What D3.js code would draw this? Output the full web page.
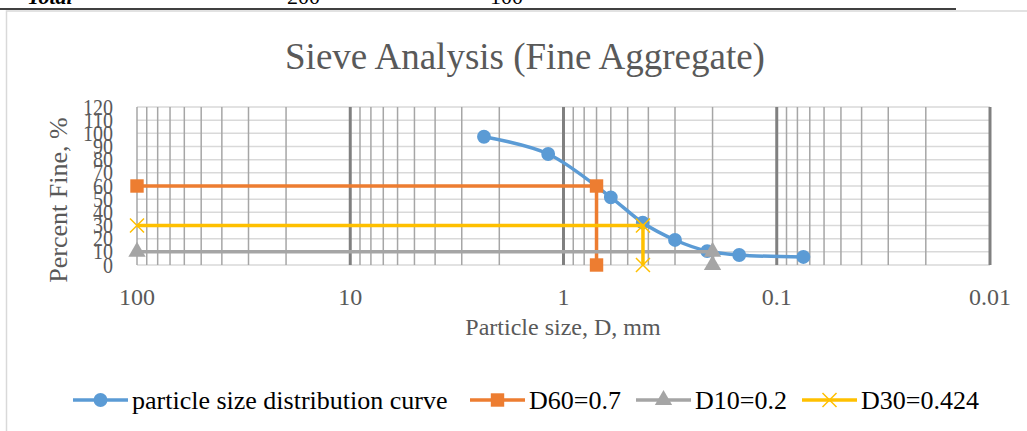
<html>
<meta charset="utf-8" />
<head>
<title>Sieve Analysis (Fine Aggregate)</title>
<script src="https://cdn.jsdelivr.net/npm/d3@7/dist/d3.min.js"></script>
<style>
	body { margin: 0; background: #fff; }
	svg text { font-family: "Liberation Serif", "Times New Roman", serif; }
</style>
<script>
// sieve sizes (mm) and percent passing
const sieveSize = [2.36, 1.18, 0.6, 0.425, 0.3, 0.212, 0.15, 0.075];
const percentFine = [97.4, 84.3, 51.4, 32.1, 19, 10.6, 7.6, 6.1];

// D-value guide lines: from 100 mm across, then down to 0
const d60Size = [100, 0.7, 0.7];
const d60Fine = [60, 60, 0];
const d10Size = [100, 0.2, 0.2];
const d10Fine = [10, 10, 0];
const d30Size = [100, 0.424, 0.424];
const d30Fine = [30, 30, 0];

const xTicks = [100, 10, 1, 0.1, 0.01];
const yTicks = [0, 10, 20, 30, 40, 50, 60, 70, 80, 90, 100, 110, 120];
const seriesNames = ['particle size distribution curve', 'D60=0.7', 'D10=0.2', 'D30=0.424'];

window.onload = function() {
	let svg = d3.select('svg');

	// text of the table above the chart (cut off at the top)
	svg.append('text').attr('x', 27).attr('y', 4).style('font-size', '22px')
	.style('font-weight', 'bold').style('font-style', 'italic').text('Total');
	svg.append('text').attr('x', 287).attr('y', 4).style('font-size', '22px').text('200');
	svg.append('text').attr('x', 490).attr('y', 4).style('font-size', '22px').text('100');
	svg.append('line').attr('x1', 0).attr('x2', 956).attr('y1', 9).attr('y2', 9)
	.attr('stroke', '#000').attr('stroke-width', 1.5);

	// chart frame
	svg.append('rect').attr('x', 6.5).attr('y', 11).attr('width', 1040).attr('height', 440)
	.attr('fill', 'none').attr('stroke', '#d9d9d9').attr('stroke-width', 1.5);

	let xScale = d3.scaleLog().domain([100, 0.01]).range([137, 990]);
	let yScale = d3.scaleLinear().domain([0, 120]).range([265, 107]);

	// horizontal grid
	svg.append('g').selectAll('line').data(yTicks).enter().append('line')
	.attr('x1', xScale(100)).attr('x2', xScale(0.01))
	.attr('y1', (d) => yScale(d)).attr('y2', (d) => yScale(d))
	.attr('stroke', '#d9d9d9').attr('stroke-width', 1.5);

	// minor vertical grid 2..9 in every decade
	let minor = [];
	[0.01, 0.1, 1, 10].forEach((p) => {
		for (let k = 2; k <= 9; k++) minor.push(+(k * p).toPrecision(3));
	});
	svg.append('g').selectAll('line').data(minor.concat([100])).enter().append('line')
	.attr('x1', (d) => xScale(d)).attr('x2', (d) => xScale(d))
	.attr('y1', yScale(0)).attr('y2', yScale(120))
	.attr('stroke', '#a6a6a6').attr('stroke-width', 1.5);

	// major decade lines
	svg.append('g').selectAll('line').data([10, 1, 0.1, 0.01]).enter().append('line')
	.attr('x1', (d) => xScale(d)).attr('x2', (d) => xScale(d))
	.attr('y1', yScale(0)).attr('y2', yScale(120))
	.attr('stroke', '#808080').attr('stroke-width', 3);

	// tick labels (y labels are narrow and overlap, as in the original)
	svg.append('g').selectAll('text').data(yTicks).enter().append('text')
	.attr('transform', (d) => 'translate(113,' + yScale(d) + ') scale(0.87,1)').attr('dy', '0.33em')
	.attr('text-anchor', 'end').style('font-size', '23px').attr('fill', '#595959')
	.text((d) => d);

	svg.append('g').selectAll('text').data(xTicks).enter().append('text')
	.attr('x', (d) => xScale(d)).attr('y', 305)
	.attr('text-anchor', 'middle').style('font-size', '24px').attr('fill', '#595959')
	.text((d) => d);

	// titles
	svg.append('text').attr('x', 525).attr('y', 69).attr('text-anchor', 'middle')
	.style('font-size', '37px').attr('fill', '#595959').text('Sieve Analysis (Fine Aggregate)');
	svg.append('text').attr('x', 563).attr('y', 335).attr('text-anchor', 'middle')
	.style('font-size', '24px').attr('fill', '#595959').text('Particle size, D, mm');
	svg.append('text').attr('transform', 'translate(67,200) rotate(-90)').attr('text-anchor', 'middle')
	.style('font-size', '26px').attr('fill', '#595959').text('Percent Fine, %');

	const colors = ['#5b9bd5', '#ed7d31', '#a5a5a5', '#ffc000'];
	const symbols = [d3.symbolCircle, d3.symbolSquare, d3.symbolTriangle, d3.symbolX];
	const symSize = [150, 180, 130, 130];

	function series(sizes, fines, i, curve) {
		let pts = sizes.map((s, j) => [xScale(s), yScale(fines[j])]);
		let line = d3.line().curve(curve);
		svg.append('path').attr('d', line(pts)).attr('fill', 'none')
		.attr('stroke', colors[i]).attr('stroke-width', 3.5).attr('stroke-linejoin', 'round');
		svg.append('g').selectAll('path').data(pts).enter().append('path')
		.attr('transform', (d) => 'translate(' + d[0] + ',' + d[1] + ')')
		.attr('d', d3.symbol(symbols[i], symSize[i]))
		.attr('fill', i == 3 ? 'none' : colors[i])
		.attr('stroke', colors[i]).attr('stroke-width', i == 3 ? 1.5 : 0);
	}

	series(sieveSize, percentFine, 0, d3.curveCatmullRom.alpha(0.5));
	series(d60Size, d60Fine, 1, d3.curveLinear);
	series(d10Size, d10Fine, 2, d3.curveLinear);
	series(d30Size, d30Fine, 3, d3.curveLinear);

	// legend
	const legendX = [73, 470, 636, 802];
	let lg = svg.append('g').selectAll('g').data(seriesNames).enter().append('g')
	.attr('transform', (d, i) => 'translate(' + legendX[i] + ',400)');
	lg.append('line').attr('x1', 0).attr('x2', 55).attr('y1', 0).attr('y2', 0)
	.attr('stroke', (d, i) => colors[i]).attr('stroke-width', 3.5);
	lg.append('path').attr('transform', 'translate(27.5,0)')
	.attr('d', (d, i) => d3.symbol(symbols[i], symSize[i])())
	.attr('fill', (d, i) => i == 3 ? 'none' : colors[i])
	.attr('stroke', (d, i) => colors[i]).attr('stroke-width', (d, i) => i == 3 ? 1.5 : 0);
	lg.append('text').attr('x', 59).attr('y', 0).attr('dy', '0.33em')
	.style('font-size', '26px').attr('fill', '#000').text((d) => d);
}
</script>
</head>
<body>
<svg width="1027" height="431"></svg>
</body>
</html>
